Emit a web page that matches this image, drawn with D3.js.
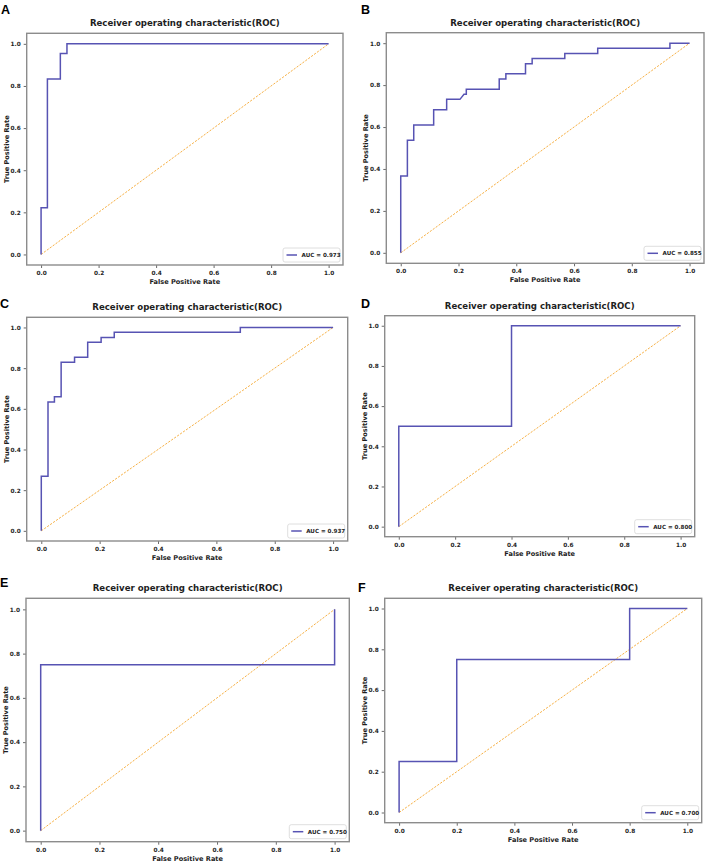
<!DOCTYPE html>
<html>
<head>
<meta charset="utf-8">
<script src="https://cdn.jsdelivr.net/npm/d3@7"></script>
<style>
  html, body { margin: 0; padding: 0; background: #fff; }
  svg { display: block; }
</style>
</head>
<body>
<svg id="chart" width="709" height="864"></svg>
<script>
// ---------------- DATA ----------------
const panelLetters = ["A", "B", "C", "D", "E", "F"];
const titleText = "Receiver operating characteristic(ROC)";
const xLabelText = "False Positive Rate";
const yLabelText = "True Positive Rate";
const aucLabels = ["AUC = 0.973", "AUC = 0.855", "AUC = 0.937", "AUC = 0.800", "AUC = 0.750", "AUC = 0.700"];
const tickValues = [0.0, 0.2, 0.4, 0.6, 0.8, 1.0];
const tickLabels = ["0.0", "0.2", "0.4", "0.6", "0.8", "1.0"];

const fprA = [0, 0, 0.022, 0.022, 0.067, 0.067, 0.090, 0.090, 1];
const tprA = [0, 0.222, 0.222, 0.833, 0.833, 0.954, 0.954, 1, 1];

const fprB = [0, 0, 0.023, 0.023, 0.045, 0.045, 0.114, 0.114, 0.159, 0.159, 0.205, 0.219, 0.227, 0.227, 0.341, 0.341, 0.364, 0.364, 0.432, 0.432, 0.455, 0.455, 0.568, 0.568, 0.682, 0.682, 0.932, 0.932, 1];
const tprB = [0, 0.366, 0.366, 0.537, 0.537, 0.610, 0.610, 0.683, 0.683, 0.732, 0.732, 0.756, 0.756, 0.780, 0.780, 0.829, 0.829, 0.854, 0.854, 0.902, 0.902, 0.927, 0.927, 0.951, 0.951, 0.976, 0.976, 1, 1];

const fprC = [0, 0, 0.023, 0.023, 0.045, 0.045, 0.068, 0.068, 0.114, 0.114, 0.159, 0.159, 0.205, 0.205, 0.250, 0.250, 0.682, 0.682, 1];
const tprC = [0, 0.268, 0.268, 0.634, 0.634, 0.659, 0.659, 0.829, 0.829, 0.854, 0.854, 0.927, 0.927, 0.951, 0.951, 0.976, 0.976, 1, 1];

const fprD = [0, 0, 0.4, 0.4, 1];
const tprD = [0, 0.5, 0.5, 1, 1];

const fprE = [0, 0, 1, 1];
const tprE = [0, 0.75, 0.75, 1];

const fprF = [0, 0, 0.2, 0.2, 0.8, 0.8, 1];
const tprF = [0, 0.25, 0.25, 0.75, 0.75, 1, 1];

const chanceLine = [0, 1];

// ---------------- LAYOUT ----------------
const curves = [[fprA, tprA], [fprB, tprB], [fprC, tprC], [fprD, tprD], [fprE, tprE], [fprF, tprF]];
const frames = [
  { l: 26.7, r: 343.0, t: 33.3, b: 265.0, lx: 1,   ly: 13.5 },
  { l: 386.3, r: 704.0, t: 32.7, b: 263.3, lx: 361, ly: 13.5 },
  { l: 26.7, r: 347.7, t: 317.3, b: 541.0, lx: 0,   ly: 307.5 },
  { l: 384.7, r: 694.7, t: 315.7, b: 536.7, lx: 361, ly: 307.5 },
  { l: 26.0, r: 349.3, t: 598.3, b: 841.7, lx: 0,   ly: 586.5 },
  { l: 384.7, r: 701.7, t: 598.3, b: 822.7, lx: 358, ly: 591.5 }
];

const curveColor = "#5753b3";
const diagColor = "#f7b146";
const frameColor = "#8c8c8c";
const textColor = "#1e1e1e";
const boldFont = "'DejaVu Sans', sans-serif";

const svg = d3.select("#chart");

frames.forEach((f, i) => {
  const g = svg.append("g");
  const x = d3.scaleLinear().domain([-0.05, 1.05]).range([f.l, f.r]);
  const y = d3.scaleLinear().domain([-0.05, 1.05]).range([f.b, f.t]);

  // panel letter
  g.append("text")
    .attr("x", f.lx).attr("y", f.ly)
    .attr("font-family", "'Liberation Sans', Arial, sans-serif")
    .attr("font-weight", "bold").attr("font-size", 12.5)
    .attr("fill", "#000")
    .text(panelLetters[i]);

  // title
  g.append("text")
    .attr("x", (f.l + f.r) / 2).attr("y", f.t - 7)
    .attr("text-anchor", "middle")
    .attr("font-family", boldFont).attr("font-weight", "bold").attr("font-size", 8.6)
    .attr("fill", textColor)
    .text(titleText);

  // axes
  const xAxis = d3.axisBottom(x).tickValues(tickValues).tickFormat((d, k) => tickLabels[k]).tickSize(3).tickPadding(3);
  const yAxis = d3.axisLeft(y).tickValues(tickValues).tickFormat((d, k) => tickLabels[k]).tickSize(3).tickPadding(3);

  const gx = g.append("g").attr("transform", `translate(0,${f.b})`).call(xAxis);
  const gy = g.append("g").attr("transform", `translate(${f.l},0)`).call(yAxis);
  [gx, gy].forEach(ax => {
    ax.select(".domain").remove();
    ax.selectAll(".tick line").attr("stroke", "#444").attr("stroke-width", 0.8);
    ax.selectAll(".tick text")
      .attr("font-family", boldFont).attr("font-weight", "bold").attr("font-size", 5.8)
      .attr("fill", textColor);
  });

  // frame
  g.append("rect")
    .attr("x", f.l).attr("y", f.t)
    .attr("width", f.r - f.l).attr("height", f.b - f.t)
    .attr("fill", "none").attr("stroke", frameColor).attr("stroke-width", 1.4);

  // axis labels
  g.append("text")
    .attr("x", (x(0) + x(1)) / 2).attr("y", f.b + 19)
    .attr("text-anchor", "middle")
    .attr("font-family", boldFont).attr("font-weight", "bold").attr("font-size", 6.6)
    .attr("fill", textColor)
    .text(xLabelText);
  g.append("text")
    .attr("transform", `translate(${f.l - 18},${(f.t + f.b) / 2}) rotate(-90)`)
    .attr("text-anchor", "middle")
    .attr("font-family", boldFont).attr("font-weight", "bold").attr("font-size", 6.6)
    .attr("fill", textColor)
    .text(yLabelText);

  // chance diagonal
  g.append("path")
    .datum(chanceLine)
    .attr("d", d3.line().x(d => x(d)).y(d => y(d)))
    .attr("fill", "none").attr("stroke", diagColor).attr("stroke-width", 1)
    .attr("stroke-dasharray", "2.2,1.4");

  // ROC curve
  const [fpr, tpr] = curves[i];
  const pts = fpr.map((v, k) => [v, tpr[k]]);
  g.append("path")
    .datum(pts)
    .attr("d", d3.line().x(d => x(d[0])).y(d => y(d[1])))
    .attr("fill", "none").attr("stroke", curveColor).attr("stroke-width", 1.5)
    .attr("stroke-linejoin", "miter");

  // legend
  const lw = 57, lh = 14;
  const lxp = f.r - 3 - lw, lyp = f.b - 3 - lh;
  const lg = g.append("g");
  lg.append("rect")
    .attr("x", lxp).attr("y", lyp).attr("width", lw).attr("height", lh)
    .attr("rx", 2).attr("fill", "#fff").attr("stroke", "#d6d6d6").attr("stroke-width", 0.8);
  lg.append("line")
    .attr("x1", lxp + 3.5).attr("x2", lxp + 14).attr("y1", lyp + lh / 2).attr("y2", lyp + lh / 2)
    .attr("stroke", curveColor).attr("stroke-width", 1.5);
  lg.append("text")
    .attr("x", lxp + 18.5).attr("y", lyp + lh / 2 + 2)
    .attr("font-family", boldFont).attr("font-weight", "bold").attr("font-size", 5.6)
    .attr("fill", textColor)
    .text(aucLabels[i]);
});
</script>
</body>
</html>
